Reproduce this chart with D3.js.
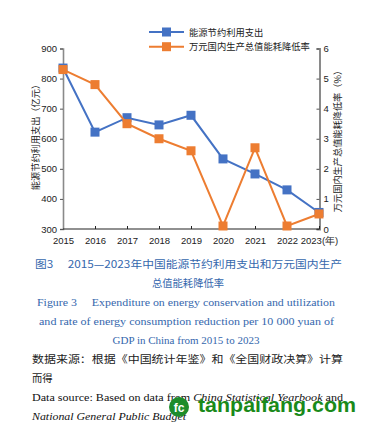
<!DOCTYPE html>
<html><head><meta charset="utf-8">
<script src="https://cdn.jsdelivr.net/npm/d3@7"></script>
<style>html,body{margin:0;padding:0;background:#fff;}svg{display:block;}</style>
</head><body>
<svg id="c" width="367" height="428"></svg>
<script>
const years = ["2015","2016","2017","2018","2019","2020","2021","2022","2023"];
const expenditure = [835, 622, 670, 646, 678, 533, 483, 430, 355];
const reductionRate = [5.3, 4.8, 3.5, 3.0, 2.6, 0.1, 2.7, 0.1, 0.5];
const leftTicks = [300, 400, 500, 600, 700, 800, 900];
const rightTicks = [0, 1, 2, 3, 4, 5, 6];
const seriesNames = ["能源节约利用支出", "万元国内生产总值能耗降低率"];
const leftTitle = "能源节约利用支出（亿元）";
const rightTitle = "万元国内生产总值能耗降低率（%）";
const captionCN = ["图3\u2003 2015—2023年中国能源节约利用支出和万元国内生产", "总值能耗降低率"];
const captionEN = ["Figure 3\u2003 Expenditure on energy conservation and utilization", "and rate of energy consumption reduction per 10 000 yuan of", "GDP in China from 2015 to 2023"];
const sourceCN = ["数据来源：根据《中国统计年鉴》和《全国财政决算》计算", "而得"];

const blue = "#4472C4", orange = "#ED7D31";
const svg = d3.select("#c");
const sans = "'Liberation Sans', Arial, sans-serif";
const cjk = "'Noto Sans CJK SC', sans-serif";
const serif = "'Liberation Serif', 'Times New Roman', serif";

const x = d3.scalePoint().domain(years).range([63, 319]);
const yL = d3.scaleLinear().domain([300, 900]).range([229, 48.5]);
const yR = d3.scaleLinear().domain([0, 6]).range([229, 48.5]);

// left axis
const gL = svg.append("g").attr("transform", "translate(63,0)")
  .call(d3.axisLeft(yL).tickValues(leftTicks).tickSize(3).tickPadding(3));
gL.select(".domain").attr("stroke", "#8a8a8a").attr("stroke-width", 1.6);
gL.selectAll(".tick line").attr("stroke", "#555");
gL.selectAll("text").attr("font-family", sans).attr("font-size", 9.5).attr("fill", "#222");

// right axis (ticks inward)
const gR = svg.append("g").attr("transform", "translate(319.5,0)")
  .call(d3.axisRight(yR).tickValues(rightTicks).tickFormat(d3.format("d")).tickSize(-3).tickPadding(4));
gR.select(".domain").attr("stroke", "#8a8a8a").attr("stroke-width", 2);
gR.selectAll(".tick line").attr("stroke", "#555");
gR.selectAll("text").attr("font-family", sans).attr("font-size", 9.5).attr("fill", "#222");

// x axis
const gX = svg.append("g").attr("transform", "translate(0,229)")
  .call(d3.axisBottom(x).tickSize(-3).tickPadding(8).tickFormat(d => d === "2023" ? "2023(年)" : d));
gX.select(".domain").attr("stroke", "#222").attr("stroke-width", 1.2).attr("d", "M63,0H319.5");
gX.selectAll(".tick line").attr("stroke", "#222");
gX.selectAll("text").attr("font-family", sans).attr("font-size", 9.5).attr("fill", "#222");
gX.selectAll(".tick").filter(d => d === "2015").select("line").remove();

// axis titles
svg.append("text").attr("transform", "translate(39,135) rotate(-90)")
  .attr("text-anchor", "middle").attr("font-family", cjk).attr("font-size", 9.2).attr("fill", "#222").text(leftTitle);
svg.append("text").attr("transform", "translate(341,139) rotate(-90)")
  .attr("text-anchor", "middle").attr("font-family", cjk).attr("font-size", 9.2).attr("fill", "#222").text(rightTitle);

// lines
const lineL = d3.line().x((d, i) => x(years[i])).y(d => yL(d));
const lineR = d3.line().x((d, i) => x(years[i])).y(d => yR(d));
svg.append("path").attr("d", lineL(expenditure)).attr("fill", "none").attr("stroke", blue).attr("stroke-width", 2);
svg.selectAll(".mb").data(expenditure).join("rect")
  .attr("x", (d, i) => x(years[i]) - 4.5).attr("y", d => yL(d) - 4.5)
  .attr("width", 9).attr("height", 9).attr("fill", blue);
svg.append("path").attr("d", lineR(reductionRate)).attr("fill", "none").attr("stroke", orange).attr("stroke-width", 2);
svg.selectAll(".mo").data(reductionRate).join("rect")
  .attr("x", (d, i) => x(years[i]) - 4.5).attr("y", d => yR(d) - 4.5)
  .attr("width", 9).attr("height", 9).attr("fill", orange);

// legend
const leg = svg.append("g");
[blue, orange].forEach((c, i) => {
  const ly = 32 + i * 14.7;
  leg.append("line").attr("x1", 149).attr("x2", 184).attr("y1", ly).attr("y2", ly).attr("stroke", c).attr("stroke-width", 2);
  leg.append("rect").attr("x", 162).attr("y", ly - 4.5).attr("width", 9).attr("height", 9).attr("fill", c);
  leg.append("text").attr("x", 189).attr("y", ly + 3.5).attr("font-family", cjk).attr("font-size", 9.3).attr("fill", "#222").text(seriesNames[i]);
});

// captions
const capColor = "#3567ad";
function line(txt, xPos, yPos, opts) {
  const t = svg.append("text").attr("x", xPos).attr("y", yPos)
    .attr("font-family", opts.font).attr("font-size", opts.size).attr("fill", opts.color)
    .attr("text-anchor", opts.anchor || "start");
  if (opts.len) t.attr("textLength", opts.len).attr("lengthAdjust", "spacingAndGlyphs");
  if (opts.italic) t.attr("font-style", "italic");
  t.text(txt);
  return t;
}
line(captionCN[0], 35, 268, {font: cjk, size: 10.3, color: capColor, len: 307});
line(captionCN[1], 188, 287, {font: cjk, size: 10.3, color: capColor, anchor: "middle"});
line(captionEN[0], 37, 306, {font: serif, size: 11, color: capColor, len: 298});
line(captionEN[1], 39, 325, {font: serif, size: 11, color: capColor, len: 295});
line(captionEN[2], 186, 344, {font: serif, size: 11, color: capColor, anchor: "middle"});
line(sourceCN[0], 32, 363, {font: cjk, size: 10.3, color: "#222", len: 311});
line(sourceCN[1], 32, 382, {font: cjk, size: 10.3, color: "#222"});
const ds = svg.append("text").attr("x", 32).attr("y", 401).attr("font-family", serif).attr("font-size", 11).attr("fill", "#111")
  .attr("textLength", 311).attr("lengthAdjust", "spacingAndGlyphs");
ds.append("tspan").text("Data source: Based on data from ");
ds.append("tspan").attr("font-style", "italic").text("China Statistical Yearbook");
ds.append("tspan").text(" and");
line("National General Public Budget", 32, 420, {font: serif, size: 11, color: "#111", italic: true, len: 154});

// watermark
const wm = svg.append("g");
wm.append("circle").attr("cx", 179).attr("cy", 407).attr("r", 10).attr("fill", "#1e8c2a");
wm.append("text").attr("x", 179).attr("y", 412).attr("text-anchor", "middle").attr("font-family", sans).attr("font-weight", "bold").attr("font-size", 12).attr("fill", "#fff").text("fc");
wm.append("text").attr("x", 198).attr("y", 412).attr("font-family", sans).attr("font-weight", "bold").attr("font-size", 20).attr("fill", "#1a8a1a").attr("textLength", 158).attr("lengthAdjust", "spacingAndGlyphs").text("tanpaifang.com");
</script>
</body></html>
